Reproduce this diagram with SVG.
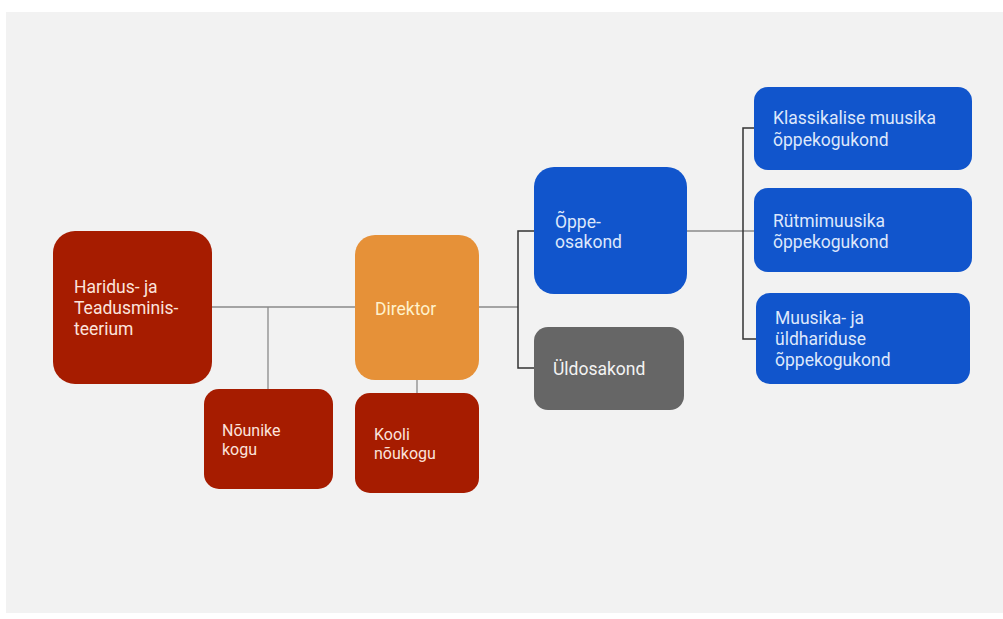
<svg xmlns="http://www.w3.org/2000/svg" width="1003" height="619" viewBox="0 0 1003 619">
<style>
text{font-family:Roboto,"Liberation Sans",sans-serif;font-size:17.5px}
text.s{font-size:16px}
.red{fill:#a61c00}
.org{fill:#e69138}
.blu{fill:#1155cc}
.gry{fill:#666666}
.tr{fill:#fbe3dc}
.to{fill:#fff2cc}
.tb{fill:#dde7fb}
.tg{fill:#f3f3f3}
.c1{stroke:#8a8a8a;stroke-width:1.3;fill:none}
.c2{stroke:#333333;stroke-width:1.5;fill:none}
</style>
<rect x="0" y="0" width="1003" height="619" fill="#ffffff"/>
<rect x="6" y="12" width="997" height="601" fill="#f2f2f2"/>
<g id="connectors">
<path class="c1" d="M212 307H355M479 307H518M268 307V389M417 379V393M687 231H754"/>
<path class="c2" d="M534 231H518V368H534M754 128H743V339H756"/>
</g>
<g id="haridus">
<rect class="red" x="53" y="231" width="159" height="153" rx="22"/>
<text class="tr" x="74" y="293">Haridus- ja</text>
<text class="tr" x="74" y="314">Teadusminis-</text>
<text class="tr" x="74" y="335">teerium</text>
</g>
<g id="direktor">
<rect class="org" x="355" y="235" width="124" height="145" rx="20"/>
<text class="to" x="375" y="315">Direktor</text>
</g>
<g id="nounike">
<rect class="red" x="204" y="389" width="129" height="100" rx="15"/>
<text class="tr s" x="222" y="436">Nõunike</text>
<text class="tr s" x="222" y="455">kogu</text>
</g>
<g id="kooli">
<rect class="red" x="355" y="393" width="124" height="100" rx="15"/>
<text class="tr s" x="374" y="440">Kooli</text>
<text class="tr s" x="374" y="459">nõukogu</text>
</g>
<g id="oppeosakond">
<rect class="blu" x="534" y="167" width="153" height="127" rx="20"/>
<text class="tb" x="555" y="228">Õppe-</text>
<text class="tb" x="555" y="248">osakond</text>
</g>
<g id="uldosakond">
<rect class="gry" x="534" y="327" width="150" height="83" rx="14"/>
<text class="tg" x="553" y="375">Üldosakond</text>
</g>
<g id="klassikalise">
<rect class="blu" x="754" y="87" width="218" height="83" rx="14"/>
<text class="tb" x="773" y="124">Klassikalise muusika</text>
<text class="tb" x="773" y="146">õppekogukond</text>
</g>
<g id="rytmimuusika">
<rect class="blu" x="754" y="188" width="218" height="84" rx="14"/>
<text class="tb" x="773" y="227">Rütmimuusika</text>
<text class="tb" x="773" y="248">õppekogukond</text>
</g>
<g id="muusika">
<rect class="blu" x="756" y="293" width="214" height="91" rx="14"/>
<text class="tb" x="775" y="324">Muusika- ja</text>
<text class="tb" x="775" y="345">üldhariduse</text>
<text class="tb" x="775" y="366">õppekogukond</text>
</g>
</svg>
